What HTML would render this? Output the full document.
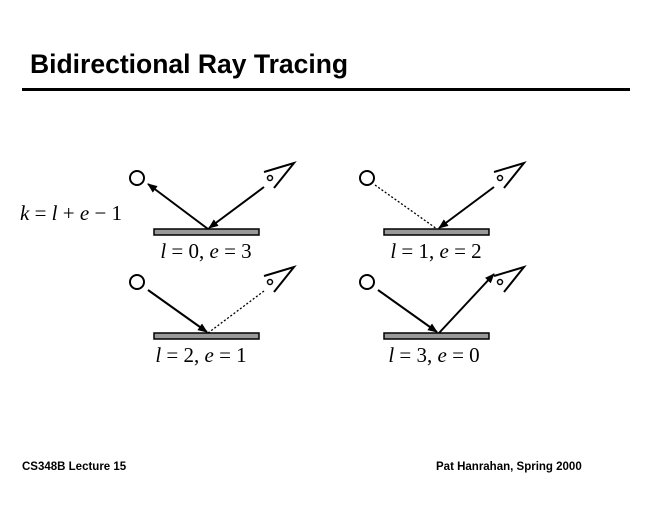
<!DOCTYPE html>
<html><head><style>
body{margin:0;background:#fff;}
svg{display:block}
</style></head><body>
<svg width="660" height="510" xmlns="http://www.w3.org/2000/svg">
<defs>
<marker id="a" markerWidth="10" markerHeight="8" refX="9" refY="4" orient="auto" markerUnits="userSpaceOnUse">
<path d="M0,0 L10,4 L0,8 Z" fill="#000"/></marker>
<g id="eye" fill="none" stroke="#000" stroke-width="2">
<polyline points="0,9 30,0 10,25"/>
<circle cx="6" cy="15" r="2.5" stroke-width="1.5"/>
</g>
</defs>
<text x="30" y="73" font-family="Liberation Sans, sans-serif" font-weight="bold" font-size="26.5">Bidirectional Ray Tracing</text>
<rect x="22" y="88" width="608" height="3" fill="#000"/>
<g font-family="Liberation Serif, serif" font-size="21">
<text x="20" y="220"><tspan font-style="italic">k</tspan> = <tspan font-style="italic">l</tspan> + <tspan font-style="italic">e</tspan> − 1</text>
<text x="206" y="258" text-anchor="middle"><tspan font-style="italic">l</tspan> = 0, <tspan font-style="italic">e</tspan> = 3</text>
<text x="436" y="258" text-anchor="middle"><tspan font-style="italic">l</tspan> = 1, <tspan font-style="italic">e</tspan> = 2</text>
<text x="201" y="362" text-anchor="middle"><tspan font-style="italic">l</tspan> = 2, <tspan font-style="italic">e</tspan> = 1</text>
<text x="434" y="362" text-anchor="middle"><tspan font-style="italic">l</tspan> = 3, <tspan font-style="italic">e</tspan> = 0</text>
</g>
<g fill="#999" stroke="#000" stroke-width="1.5">
<rect x="154" y="229" width="105" height="6"/>
<rect x="384" y="229" width="105" height="6"/>
<rect x="154" y="333" width="105" height="6"/>
<rect x="384" y="333" width="105" height="6"/>
</g>
<g fill="none" stroke="#000" stroke-width="2">
<circle cx="137" cy="178" r="7"/><circle cx="367" cy="178" r="7"/>
<circle cx="137" cy="282" r="7"/><circle cx="367" cy="282" r="7"/>
</g>
<use href="#eye" x="264" y="163"/><use href="#eye" x="494" y="163"/>
<use href="#eye" x="264" y="267"/><use href="#eye" x="494" y="267"/>
<g stroke="#000" stroke-width="2">
<line x1="208" y1="229" x2="148" y2="184" marker-end="url(#a)"/>
<line x1="264" y1="187" x2="209" y2="228" marker-end="url(#a)"/>
<line x1="375" y1="185" x2="437" y2="229" stroke-width="1.3" stroke-dasharray="2,2"/>
<line x1="494" y1="187" x2="439" y2="228" marker-end="url(#a)"/>
<line x1="148" y1="290" x2="207" y2="332" marker-end="url(#a)"/>
<line x1="208" y1="333" x2="264" y2="291" stroke-width="1.3" stroke-dasharray="2,2"/>
<line x1="378" y1="290" x2="437" y2="332" marker-end="url(#a)"/>
<line x1="439" y1="333" x2="494" y2="274" marker-end="url(#a)"/>
</g>
<g font-family="Liberation Sans, sans-serif" font-weight="bold" font-size="11.5">
<text x="22" y="470">CS348B Lecture 15</text>
<text x="436" y="470">Pat Hanrahan, Spring 2000</text>
</g>
</svg>
</body></html>
